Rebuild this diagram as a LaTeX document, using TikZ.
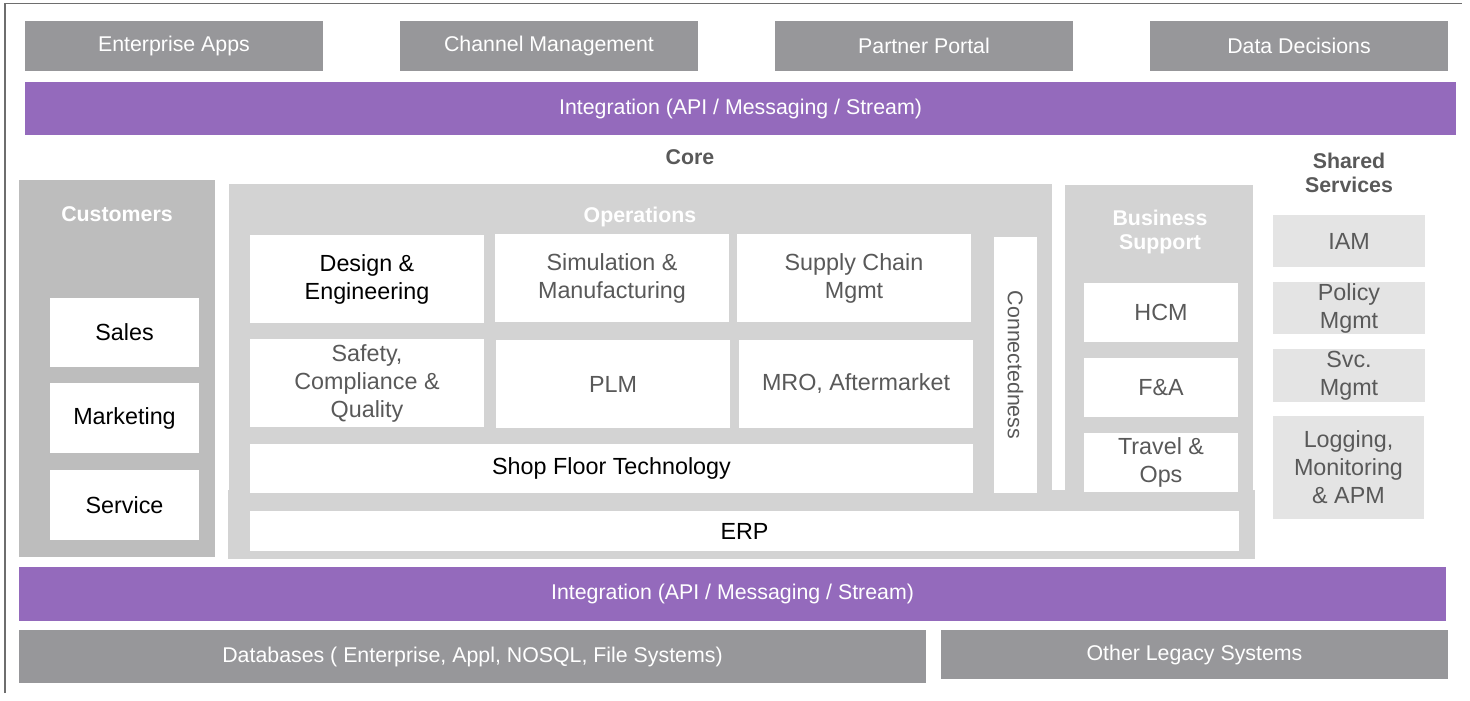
\documentclass[tikz,border=0pt]{standalone}
\usepackage{fontspec}
\setmainfont{Liberation Sans}
\definecolor{topgray}{RGB}{151,151,154}
\definecolor{purp}{RGB}{148,106,188}
\definecolor{custgray}{RGB}{189,189,189}
\definecolor{coregray}{RGB}{211,211,211}
\definecolor{sharedgray}{RGB}{228,228,228}
\definecolor{txtgray}{RGB}{89,89,89}
\definecolor{framegray}{RGB}{110,110,110}
\newcommand\bx[7]{\node[#1, minimum width={(#5-#3)*0.75pt}, minimum height={(#6-#4)*0.75pt}] (#2) at ({(#3+#5)/2},{(#4+#6)/2}) {#7};}
\tikzset{
  base/.style={inner sep=0pt, outer sep=0pt, draw=none, align=center},
  lbl/.style={font=\fontsize{16}{18.5}\selectfont},
  boxfont/.style={font=\fontsize{17.5}{21}\selectfont},
  topbox/.style={base, lbl, fill=topgray, text=white},
  purband/.style={base, lbl, fill=purp, text=white},
  custbox/.style={base, fill=custgray},
  corebox/.style={base, fill=coregray},
  whitebox/.style={base, boxfont, fill=white, text=black},
  whitegray/.style={base, boxfont, fill=white, text=txtgray},
  sharedbox/.style={base, boxfont, fill=sharedgray, text=txtgray},
  title/.style={inner sep=0pt, align=center, font=\fontsize{16}{18.5}\selectfont\bfseries},
}
\begin{document}
\begin{tikzpicture}[x=0.75pt,y=-0.75pt]
\useasboundingbox (0,0) rectangle (1470,700);
% frame
\draw[framegray, line width=1.2pt] (5,693) -- (5,3.5) -- (1462,3.5);
% top boxes
\bx{topbox}{ea}{25}{21}{323}{71}{Enterprise Apps}
\bx{topbox}{cm}{400}{21}{698}{71}{Channel Management}
\bx{topbox}{pp}{775}{21}{1073}{71}{Partner Portal}
\bx{topbox}{dd}{1150}{21}{1448}{71}{Data Decisions}
\bx{purband}{int1}{25}{82}{1456}{135}{Integration (API / Messaging / Stream)}
% labels
\node[title, text=txtgray] (core) at (690,157) {Core};
\node[title, text=txtgray] (shared) at (1349,173) {Shared\\Services};
% customers
\bx{custbox}{cust}{19}{180}{215}{557}{}
\node[title, text=white] (custt) at (117,214) {Customers};
\bx{whitebox}{sales}{50}{298}{199}{367}{Sales}
\bx{whitebox}{mkt}{50}{383}{199}{453}{Marketing}
\bx{whitebox}{svc}{50}{470}{199}{540}{Service}
% core
\bx{corebox}{ops}{229}{184}{1052}{491}{}
\bx{corebox}{bus}{1065}{185}{1253}{559}{}
\bx{corebox}{strip}{228}{490}{1255}{559}{}
\node[title, text=white] (opst) at (640,217) {Operations};
\node[title, text=white] (bust) at (1160,232) {Business\\Support};
\bx{whitebox}{design}{250}{235}{484}{323}{Design \&\\Engineering}
\bx{whitegray}{sim}{495}{234}{729}{322}{Simulation \&\\Manufacturing}
\bx{whitegray}{scm}{737}{234}{971}{322}{Supply Chain\\Mgmt}
\bx{whitegray}{safety}{250}{339}{484}{427}{Safety,\\Compliance \&\\Quality}
\bx{whitegray}{plm}{496}{340}{730}{428}{PLM}
\bx{whitegray}{mro}{739}{340}{973}{428}{MRO, Aftermarket}
\bx{whitebox}{shop}{250}{444}{973}{493}{Shop Floor Technology}
\bx{whitegray}{conn}{994}{237}{1037}{493}{}
\node[rotate=-90, inner sep=0pt, text=txtgray, font=\fontsize{16}{18.5}\selectfont] (connt) at (conn.center) {Connectedness};
\bx{whitebox}{erp}{250}{511}{1239}{551}{ERP}
\bx{whitegray}{hcm}{1084}{283}{1238}{342}{HCM}
\bx{whitegray}{fa}{1084}{358}{1238}{417}{F\&A}
\bx{whitegray}{travel}{1084}{433}{1238}{492}{Travel \&\\Ops}
% shared services
\bx{sharedbox}{iam}{1273}{215}{1425}{267}{IAM}
\bx{sharedbox}{policy}{1273}{282}{1425}{334}{Policy\\Mgmt}
\bx{sharedbox}{svcm}{1273}{349}{1425}{402}{Svc.\\Mgmt}
\bx{sharedbox}{logm}{1273}{416}{1424}{519}{Logging,\\Monitoring\\\& APM}
% bottom
\bx{purband}{int2}{19}{567}{1446}{621}{Integration (API / Messaging / Stream)}
\bx{topbox}{db}{19}{630}{926}{683}{Databases ( Enterprise, Appl, NOSQL, File Systems)}
\bx{topbox}{legacy}{941}{630}{1448}{679}{Other Legacy Systems}
\end{tikzpicture}
\end{document}
